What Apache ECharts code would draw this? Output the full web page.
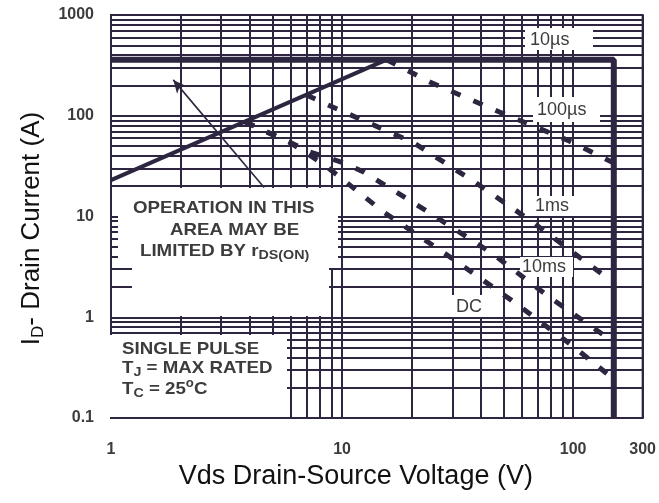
<!DOCTYPE html>
<html><head><meta charset="utf-8">
<script src="https://cdn.jsdelivr.net/npm/echarts@6/dist/echarts.min.js"></script>
<style>html,body{margin:0;padding:0;background:#fff}#c{width:659px;height:503px}</style>
</head><body><div id="c"></div>
<script>
// ---- data ----
const xTickValues = [1, 10, 100, 200];
const xTickLabels = ['1', '10', '100', '300'];
const yTickLabels = ['0.1', '1', '10', '100', '1000'];
const xMinorGrid = [2,3,4,5,6,7,8,9,20,30,40,50,60,70,80,90];
const yMinorGrid = [0.2,0.3,0.4,0.5,0.6,0.7,0.8,0.9,2,3,4,5,6,7,8,9,20,30,40,50,60,70,80,90,200,300,400,500,600,700,800,900];
const rdsLimit = [[1, 23], [15.6, 360]];
const outerLimit = [[1, 360], [150, 360], [150, 0.1]];
const curve100us = [[15.6, 360], [24, 216], [48, 109], [95, 57], [150, 34]];
const curve1ms = [[7, 161], [8.7, 128], [20.4, 54], [37.5, 22], [67.7, 8.6], [139, 2.5], [150, 2.2]];
const curve10ms = [[3.8, 87], [4.84, 67], [5.9, 55], [7.2, 44], [10.2, 34], [12.4, 27.7], [23.6, 11.1], [44.3, 4.35], [80, 1.55], [139, 0.64], [150, 0.56]];
const curveDC = [[3.8, 87], [5.9, 55], [8.4, 32.5], [10.4, 22], [15.1, 11.1], [28.5, 4.15], [54, 1.48], [98.4, 0.53], [139, 0.28], [150, 0.245]];
const arrowFrom = [4.6, 19.4];
const arrowTo = [1.86, 227];

// ---- style ----
const INK = '#2e2640';
const TXT = '#3c3c3c';
const chart = echarts.init(document.getElementById('c'), null, {renderer: 'canvas'});

function dashed(name, data) {
  return {
    name, type: 'line', data, showSymbol: false, symbol: 'none', z: 6, animation: false,
    lineStyle: {color: INK, width: 5, type: [10, 14], cap: 'butt'}
  };
}
const box = (x, y, w, h) => ({type: 'rect', z: 4, shape: {x, y, width: w, height: h}, style: {fill: '#ffffff'}, silent: true});
const note = (x, y, text) => ({
  type: 'text', z: 5, x, y, scaleX: 1.1, silent: true,
  style: {text, fill: TXT, font: 'bold 17px Arial', rich: subRich}
});
const lbl = (x, y, text) => ({
  type: 'text', z: 5, x, y, silent: true,
  style: {text, fill: TXT, font: 'normal 18px Arial', textVerticalAlign: 'middle'}
});

const subRich = {
  n: {fontSize: 17, fontWeight: 'bold', fontFamily: 'Arial', fill: TXT, lineHeight: 22},
  s: {fontSize: 13, fontWeight: 'bold', fontFamily: 'Arial', fill: TXT, lineHeight: 13, padding: [15, 0, 0, 0], verticalAlign: 'bottom'},
  p: {fontSize: 12, fontWeight: 'bold', fontFamily: 'Arial', fill: TXT, lineHeight: 12, padding: [0, 0, 14, 0], verticalAlign: 'top'}
};

const option = {
  backgroundColor: '#ffffff',
  animation: false,
  grid: {left: 107, right: 14, top: 15, bottom: 85, show: true, borderColor: INK, borderWidth: 2, backgroundColor: 'transparent'},
  xAxis: {
    type: 'log', logBase: 10, min: 1, max: 200,
    name: 'Vds Drain-Source Voltage (V)', nameLocation: 'middle', nameGap: 35,
    nameTextStyle: {fontSize: 27, fontFamily: 'Arial', color: '#111', padding: [0, 42, 0, 0]},
    axisLine: {show: true, lineStyle: {color: INK, width: 2}},
    axisTick: {show: false},
    axisLabel: {
      show: true, showMaxLabel: true, showMinLabel: true, margin: 24,
      color: TXT, fontSize: 16, fontWeight: 'bold', fontFamily: 'Arial',
      formatter: v => { const i = xTickValues.findIndex(t => Math.abs(Math.log10(t) - Math.log10(v)) < 0.01); return i >= 0 ? xTickLabels[i] : ''; }
    },
    splitLine: {show: true, lineStyle: {color: INK, width: 2}}
  },
  yAxis: {
    type: 'log', logBase: 10, min: 0.1, max: 1000,
    name: '{a|I}{b|D}{a|- Drain Current (A)}', nameLocation: 'middle', nameGap: 64,
    nameTextStyle: {
      color: '#111', padding: [0, 24, 0, 0],
      rich: {
        a: {fontSize: 26, fontFamily: 'Arial', color: '#111', lineHeight: 30},
        b: {fontSize: 17, fontFamily: 'Arial', color: '#111', lineHeight: 17, padding: [22, 0, 0, 0], verticalAlign: 'bottom'}
      }
    },
    axisLine: {show: true, lineStyle: {color: INK, width: 2}},
    axisTick: {show: false},
    axisLabel: {
      margin: 17, color: TXT, fontSize: 16, fontWeight: 'bold', fontFamily: 'Arial',
      formatter: v => { const i = Math.round(Math.log10(v)) + 1; return yTickLabels[i] || ''; }
    },
    splitLine: {show: true, lineStyle: {color: INK, width: 2}}
  },
  series: [
    {
      name: 'grid', type: 'line', data: [], z: 1, silent: true,
      markLine: {
        silent: true, symbol: ['none', 'none'], animation: false, z: 1,
        label: {show: false},
        lineStyle: {color: INK, width: 2, type: 'solid'},
        data: xMinorGrid.map(v => ({xAxis: v})).concat(yMinorGrid.map(v => ({yAxis: v})))
      }
    },
    {
      name: 'limit', type: 'line', data: outerLimit, showSymbol: false, symbol: 'none', z: 6,
      lineStyle: {color: INK, width: 6}
    },
    {
      name: 'rds', type: 'line', data: rdsLimit, showSymbol: false, symbol: 'none', z: 6,
      lineStyle: {color: INK, width: 4},
      markLine: {
        silent: true, z: 7, animation: false, label: {show: false},
        symbol: ['none', 'arrow'], symbolSize: [9, 13],
        lineStyle: {color: INK, width: 1.6, type: 'solid'},
        data: [[{coord: arrowFrom}, {coord: arrowTo}]]
      }
    },
    dashed('100us', curve100us),
    dashed('1ms', curve1ms),
    dashed('10ms', curve10ms),
    dashed('DC', curveDC)
  ],
  graphic: [
    box(525, 28, 68, 22), lbl(530, 40, '10µs'),
    box(533, 97, 67, 25), lbl(537, 110, '100µs'),
    box(530, 196, 53, 20), lbl(535, 206, '1ms'),
    box(520, 257, 53, 20), lbl(522, 267, '10ms'),
    box(450, 295, 52, 22), lbl(456, 307, 'DC'),
    box(118, 188, 220, 80), box(132, 266, 197, 50),
    note(133, 197, '{n|OPERATION IN THIS}'),
    note(170, 219, '{n|AREA MAY BE}'),
    note(140, 240, '{n|LIMITED BY r}{s|DS(ON)}'),
    box(108, 335, 179, 82),
    note(122, 338, '{n|SINGLE PULSE}'),
    note(122, 357, '{n|T}{s|J}{n| = MAX RATED}'),
    note(122, 378, '{n|T}{s|C}{n| = 25}{p|o}{n|C}')
  ]
};
chart.setOption(option);
</script></body></html>
